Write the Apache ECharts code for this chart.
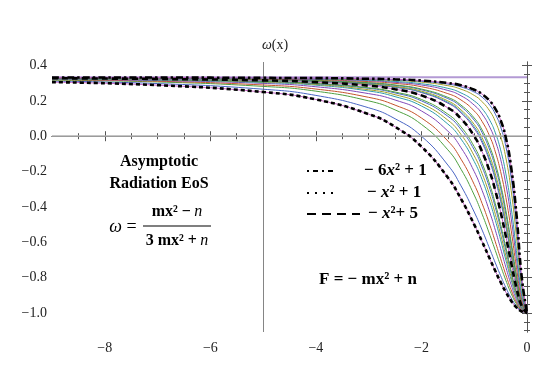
<!DOCTYPE html>
<html>
<head>
<meta charset="utf-8">
<script src="https://cdn.jsdelivr.net/npm/echarts@6/dist/echarts.min.js"></script>
<style>
  html, body { margin: 0; padding: 0; background: #fff; }
  #chart { width: 545px; height: 381px; }
</style>
</head>
<body>
<div id="chart"></div>
<script>
  // x positions shared by every curve
  const xs = [-9, -7, -5, -4, -3, -2.5, -2, -1.5, -1.25, -1, -0.85, -0.7, -0.6, -0.5, -0.4, -0.3, -0.2, -0.1, 0]

  // omega(x), one array per curve (k = m/n)
  const w020 = [0.306, 0.289, 0.250, 0.208, 0.125, 0.053, -0.059, -0.234, -0.355, -0.500, -0.597, -0.697, -0.763, -0.826, -0.883, -0.932, -0.969, -0.992, -1]
  const w025 = [0.312, 0.298, 0.266, 0.231, 0.161, 0.099, 0.000, -0.163, -0.281, -0.429, -0.531, -0.642, -0.717, -0.789, -0.857, -0.916, -0.961, -0.990, -1]
  const w033 = [0.317, 0.307, 0.282, 0.255, 0.200, 0.149, 0.067, -0.077, -0.187, -0.333, -0.441, -0.562, -0.647, -0.733, -0.816, -0.890, -0.949, -0.987, -1]
  const w040 = [0.320, 0.311, 0.290, 0.267, 0.220, 0.176, 0.103, -0.027, -0.130, -0.273, -0.381, -0.506, -0.598, -0.692, -0.785, -0.870, -0.939, -0.984, -1]
  const w050 = [0.322, 0.315, 0.299, 0.280, 0.241, 0.205, 0.143, 0.029, -0.065, -0.200, -0.307, -0.435, -0.532, -0.636, -0.742, -0.841, -0.925, -0.980, -1]
  const w060 = [0.324, 0.318, 0.304, 0.289, 0.256, 0.224, 0.171, 0.069, -0.016, -0.143, -0.246, -0.375, -0.476, -0.586, -0.702, -0.814, -0.910, -0.976, -1]
  const w067 = [0.325, 0.320, 0.307, 0.293, 0.263, 0.235, 0.185, 0.091, 0.010, -0.111, -0.212, -0.340, -0.442, -0.556, -0.677, -0.797, -0.901, -0.974, -1]
  const w075 = [0.326, 0.321, 0.310, 0.297, 0.271, 0.245, 0.200, 0.113, 0.038, -0.077, -0.174, -0.301, -0.403, -0.520, -0.647, -0.775, -0.890, -0.971, -1]
  const w080 = [0.327, 0.322, 0.311, 0.299, 0.274, 0.250, 0.208, 0.125, 0.053, -0.059, -0.154, -0.279, -0.382, -0.500, -0.630, -0.763, -0.883, -0.969, -1]
  const w100 = [0.328, 0.324, 0.316, 0.306, 0.286, 0.266, 0.231, 0.161, 0.099, 0.000, -0.088, -0.206, -0.308, -0.429, -0.568, -0.717, -0.857, -0.961, -1]
  const w120 = [0.329, 0.326, 0.319, 0.311, 0.293, 0.277, 0.247, 0.187, 0.132, 0.043, -0.037, -0.149, -0.247, -0.368, -0.513, -0.674, -0.832, -0.954, -1]
  const w125 = [0.329, 0.326, 0.319, 0.311, 0.295, 0.279, 0.250, 0.192, 0.139, 0.053, -0.026, -0.137, -0.234, -0.355, -0.500, -0.664, -0.826, -0.952, -1]
  const w133 = [0.329, 0.327, 0.320, 0.313, 0.297, 0.282, 0.255, 0.200, 0.149, 0.067, -0.009, -0.117, -0.213, -0.333, -0.480, -0.647, -0.816, -0.949, -1]
  const w150 = [0.330, 0.327, 0.322, 0.315, 0.301, 0.288, 0.263, 0.213, 0.167, 0.091, 0.020, -0.083, -0.176, -0.294, -0.442, -0.616, -0.797, -0.943, -1]
  const w160 = [0.330, 0.328, 0.322, 0.316, 0.303, 0.290, 0.267, 0.220, 0.176, 0.103, 0.035, -0.064, -0.155, -0.273, -0.421, -0.598, -0.785, -0.939, -1]
  const w200 = [0.331, 0.329, 0.324, 0.320, 0.309, 0.299, 0.280, 0.241, 0.205, 0.143, 0.083, -0.005, -0.089, -0.200, -0.347, -0.532, -0.742, -0.925, -1]
  const w250 = [0.331, 0.330, 0.326, 0.322, 0.314, 0.305, 0.290, 0.259, 0.229, 0.176, 0.126, 0.048, -0.027, -0.130, -0.273, -0.463, -0.692, -0.907, -1]
  const w300 = [0.332, 0.330, 0.327, 0.324, 0.317, 0.310, 0.297, 0.271, 0.245, 0.200, 0.156, 0.087, 0.019, -0.077, -0.213, -0.403, -0.647, -0.890, -1]
  const w400 = [0.332, 0.331, 0.329, 0.326, 0.321, 0.316, 0.306, 0.286, 0.266, 0.231, 0.195, 0.140, 0.083, 0.000, -0.123, -0.308, -0.568, -0.857, -1]
  const w500 = [0.332, 0.332, 0.330, 0.328, 0.324, 0.319, 0.311, 0.295, 0.279, 0.250, 0.221, 0.174, 0.125, 0.053, -0.059, -0.234, -0.500, -0.826, -1]
  const w600 = [0.332, 0.332, 0.330, 0.329, 0.325, 0.322, 0.315, 0.301, 0.288, 0.263, 0.238, 0.198, 0.155, 0.091, -0.010, -0.176, -0.442, -0.797, -1]

  const asymptote = 0.3333
  const xTicks = [-8, -6, -4, -2, 0]
  const xMinor = [-8.5, -7.5, -7, -6.5, -5.5, -5, -4.5, -3.5, -3, -2.5, -1.5, -1, -0.5]
  const yTicks = [-1, -0.8, -0.6, -0.4, -0.2, 0, 0.2, 0.4]
  const yMinor = [-1.1, -1.05, -0.95, -0.9, -0.85, -0.75, -0.7, -0.65, -0.55, -0.5, -0.45, -0.35, -0.3,
    -0.25, -0.15, -0.1, -0.05, 0.05, 0.1, 0.15, 0.25, 0.3, 0.35]

  const family = [w020, w025, w033, w040, w050, w060, w067, w075, w080, w100,
    w120, w125, w133, w150, w160, w200, w250, w300, w400, w500, w600]
  const pink = '#c25fc2'
  const palette = ['#4a66c4', '#4fa040', '#c4542c', '#8048b8', '#2f9cab', '#a3a02a']

  const serif = '"Liberation Serif", "DejaVu Serif", serif'
  const frameColor = '#555'

  function pts(arr) {
    return xs.map((x, i) => [x, arr[i]])
  }

  function fmt(v) {
    return (v < 0 ? '\u2212' : '') + Math.abs(v)
  }

  function xAxisCfg(pos, values, len, labels) {
    return {
      type: 'value', min: -9, max: 0, position: pos,
      axisLine: { show: labels !== null, lineStyle: { color: frameColor, width: 1 } },
      axisTick: { show: true, inside: true, length: len, customValues: values, lineStyle: { color: frameColor } },
      axisLabel: labels ? { customValues: values, formatter: fmt, color: '#222', fontFamily: serif, fontSize: 14, margin: 9 } : { show: false },
      splitLine: { show: false }
    }
  }

  function yAxisCfg(pos, values, len, labels) {
    return {
      type: 'value', min: -1.108, max: 0.42, position: pos,
      axisLine: { show: labels !== null, lineStyle: { color: frameColor, width: 1 } },
      axisTick: { show: true, inside: true, length: len, customValues: values, lineStyle: { color: frameColor } },
      axisLabel: labels ? {
        customValues: values, color: '#222', fontFamily: serif, fontSize: 14, margin: 5,
        formatter: v => (v < 0 ? '\u2212' : '') + Math.abs(v).toFixed(1)
      } : { show: false },
      splitLine: { show: false }
    }
  }

  const series = []
  // axes through the origin (-5, 0)
  series.push({
    type: 'line', data: [], silent: true, z: 1,
    markLine: {
      silent: true, symbol: 'none', label: { show: false }, animation: false,
      data: [
        { xAxis: -5, lineStyle: { color: '#666', width: 0.8, type: 'solid' } },
        { yAxis: 0, lineStyle: { color: '#b3b3b3', width: 1.6, type: 'solid' } }
      ]
    }
  })
  // the 1/3 asymptote
  series.push({
    type: 'line', data: [[-9, asymptote], [0, asymptote]], symbol: 'none', z: 2,
    lineStyle: { color: '#b39ad4', width: 2 }
  })
  family.forEach((arr, i) => {
    let c = palette[(i - 1 + palette.length) % palette.length]
    if (arr === w020 || arr === w100 || arr === w600) c = pink
    series.push({
      type: 'line', data: pts(arr), symbol: 'none', smooth: 0.5, z: 3,
      lineStyle: { color: c, width: 1 }
    })
  })
  // the three labelled cases
  series.push({
    type: 'line', data: pts(w600), symbol: 'none', smooth: 0.5, z: 5,
    lineStyle: { color: '#000', width: 2.6, type: [7, 3, 2.5, 3] }
  })
  series.push({
    type: 'line', data: pts(w100), symbol: 'none', smooth: 0.5, z: 5,
    lineStyle: { color: '#000', width: 2.6, type: [6, 4] }
  })
  series.push({
    type: 'line', data: pts(w020), symbol: 'none', smooth: 0.5, z: 5,
    lineStyle: { color: '#000', width: 2.6, type: [4, 3] }
  })

  const bold = 'bold 16px ' + serif
  const richB = {
    b: { fontWeight: 'bold', fontSize: 16, fontFamily: serif },
    i: { fontStyle: 'italic', fontSize: 16, fontFamily: serif },
    bi: { fontWeight: 'bold', fontStyle: 'italic', fontSize: 16, fontFamily: serif }
  }
  const richL = {
    b: { fontWeight: 'bold', fontSize: 17, fontFamily: serif },
    bi: { fontWeight: 'bold', fontStyle: 'italic', fontSize: 17, fontFamily: serif }
  }

  const chart = echarts.init(document.getElementById('chart'))
  chart.setOption({
    animation: false,
    grid: { left: 52, right: 18, top: 62, bottom: 49 },
    xAxis: [
      xAxisCfg('bottom', xTicks, 5, true),
      xAxisCfg('bottom', xMinor, 3, null),
      xAxisCfg('top', xTicks, 5, false),
      xAxisCfg('top', xMinor, 3, null)
    ],
    yAxis: [
      yAxisCfg('left', yTicks, 5, true),
      yAxisCfg('left', yMinor, 3, null),
      yAxisCfg('right', yTicks, 5, false),
      yAxisCfg('right', yMinor, 3, null)
    ],
    series: series,
    graphic: [
      { type: 'text', x: 275, y: 45, style: { text: '{i|ω}(x)', font: '14px ' + serif, fill: '#222', align: 'center', verticalAlign: 'middle',
        rich: { i: { fontStyle: 'italic', fontSize: 14, fontFamily: serif } } } },
      { type: 'text', x: 159, y: 162, style: { text: 'Asymptotic', font: bold, fill: '#000', align: 'center', verticalAlign: 'middle' } },
      { type: 'text', x: 159, y: 184, style: { text: 'Radiation EoS', font: bold, fill: '#000', align: 'center', verticalAlign: 'middle' } },
      { type: 'text', x: 123, y: 227, style: { text: '{i|ω} =', font: '18px ' + serif, fill: '#000', align: 'center', verticalAlign: 'middle',
        rich: { i: { fontStyle: 'italic', fontSize: 18, fontFamily: serif } } } },
      { type: 'text', x: 177, y: 212, style: { text: '{b|mx² −} {i|n}', fill: '#000', align: 'center', verticalAlign: 'middle', rich: richB } },
      { type: 'line', shape: { x1: 143, y1: 226, x2: 211, y2: 226 }, style: { stroke: '#000', lineWidth: 1.2 } },
      { type: 'text', x: 177, y: 241, style: { text: '{b|3 mx² +} {i|n}', fill: '#000', align: 'center', verticalAlign: 'middle', rich: richB } },

      { type: 'line', shape: { x1: 307, y1: 171, x2: 337, y2: 171 }, style: { stroke: '#000', lineWidth: 2, lineDash: [2, 4, 5, 4] } },
      { type: 'line', shape: { x1: 307, y1: 193, x2: 335, y2: 193 }, style: { stroke: '#000', lineWidth: 2, lineDash: [2, 6] } },
      { type: 'line', shape: { x1: 307, y1: 214, x2: 360, y2: 214 }, style: { stroke: '#000', lineWidth: 2, lineDash: [9, 6] } },
      { type: 'text', x: 364, y: 171, style: { text: '{b|− 6}{bi|x}{b|² + 1}', fill: '#000', align: 'left', verticalAlign: 'middle', rich: richL } },
      { type: 'text', x: 367, y: 193, style: { text: '{b|− }{bi|x}{b|² + 1}', fill: '#000', align: 'left', verticalAlign: 'middle', rich: richL } },
      { type: 'text', x: 368, y: 214, style: { text: '{b|− }{bi|x}{b|²+ 5}', fill: '#000', align: 'left', verticalAlign: 'middle', rich: richL } },
      { type: 'text', x: 368, y: 280, style: { text: 'F = − mx² + n', font: 'bold 17px ' + serif, fill: '#000', align: 'center', verticalAlign: 'middle' } }
    ]
  })
</script>
</body>
</html>
